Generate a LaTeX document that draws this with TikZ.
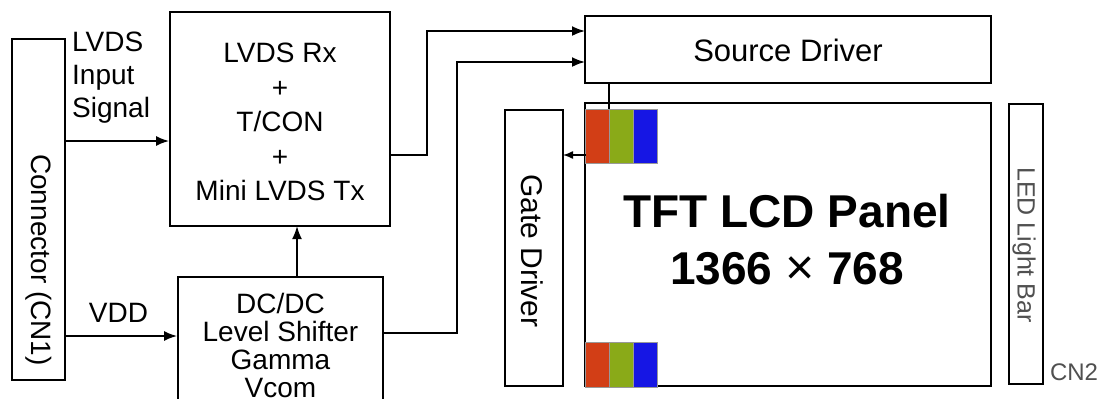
\documentclass[tikz,border=0pt]{standalone}
\usepackage{fontspec}
\setmainfont{Liberation Sans}
\usetikzlibrary{arrows.meta}
\definecolor{pxred}{RGB}{210,62,22}
\definecolor{pxgreen}{RGB}{138,170,24}
\definecolor{pxblue}{RGB}{22,22,228}
\definecolor{greytext}{RGB}{80,80,80}
\begin{document}
\begin{tikzpicture}[x=1pt,y=-1pt,
  box/.style={draw=black, line width=1.8pt, inner sep=0pt, fill=white},
  thinbox/.style={draw=black, line width=1.4pt, inner sep=0pt, fill=white},
  lbl/.style={font=\fontsize{28}{34}\selectfont, inner sep=0pt, align=center},
  wire/.style={line width=1.8pt},
  arr/.style={wire, -{Latex[length=13pt,width=10pt]}},
  smallarr/.style={line width=1.4pt, -{Latex[length=10pt,width=8pt]}},
  cell/.style={draw=black!40, line width=0.6pt, inner sep=0pt, minimum width=24, minimum height=54},
]
\clip (0,0) rectangle (1106,399);
\fill[white] (0,0) rectangle (1106,399);

% Connector CN1
\node[box, minimum width=53, minimum height=341] (cn) at (38.5,209.5) {};
\node[lbl, rotate=-90] (cntext) at (39,260) {Connector (CN1)};

% LVDS Rx block
\node[box, minimum width=220, minimum height=214] (lvds) at (280,119) {};
\node[lbl, font=\fontsize{28}{34.5}\selectfont] (lvdstext) at (280,122) {LVDS Rx\\+\\T/CON\\+\\Mini LVDS Tx};

% DC/DC block (bottom extends past picture)
\node[box, minimum width=205, minimum height=143] (dc) at (280.5,348.5) {};
\node[lbl, font=\fontsize{28}{28}\selectfont] (dctext) at (280.5,345) {DC/DC\\Level Shifter\\Gamma\\Vcom};

% Source driver
\node[box, minimum width=406, minimum height=67] (src) at (788,49.5) {};
\node[lbl, font=\fontsize{31}{34}\selectfont] (srctext) at (788,50) {Source Driver};

% Panel
\node[thinbox, minimum width=406, minimum height=283] (panel) at (788,244.5) {};
\node[lbl, font=\bfseries\fontsize{46}{57}\selectfont] (paneltext) at (787,240) {TFT LCD Panel\\1366 {\mdseries\fontsize{50}{57}\selectfont ×} 768};

% Gate driver
\node[box, minimum width=58, minimum height=276] (gate) at (534,248) {};
\node[lbl, rotate=-90, font=\fontsize{30}{34}\selectfont] (gatetext) at (532,251) {Gate Driver};

% LED light bar
\node[box, minimum width=34, minimum height=280] (led) at (1026,244) {};
\node[lbl, rotate=-90, text=greytext, font=\fontsize{25}{30}\selectfont] (ledtext) at (1024,245) {LED Light Bar};
\node[lbl, text=greytext, font=\fontsize{24}{28}\selectfont] (cn2) at (1074,372) {CN2};

% RGB pixel groups
\node[cell, fill=pxred]   (r1) at (597,136) {};
\node[cell, fill=pxgreen] (g1) at (621,136) {};
\node[cell, fill=pxblue]  (b1) at (645,136) {};
\node[cell, fill=pxred,   minimum height=45] (r2) at (597,364.5) {};
\node[cell, fill=pxgreen, minimum height=45] (g2) at (621,364.5) {};
\node[cell, fill=pxblue,  minimum height=45] (b2) at (645,364.5) {};

% Labels
\node[lbl, align=left, anchor=west, font=\fontsize{28}{33}\selectfont] (lvdsin) at (72,78) {LVDS\\Input\\Signal};
\node[lbl] (vdd) at (118.5,313) {VDD};

% Coordinates
\coordinate (cnA) at (65,141);
\coordinate (cnB) at (65,336);
\coordinate (lvA) at (390,155);
\coordinate (lvB) at (427,155);
\coordinate (lvC) at (427,31);
\coordinate (srcA) at (585,31);
\coordinate (dcA) at (383,333);
\coordinate (dcB) at (457,333);
\coordinate (dcC) at (457,62);
\coordinate (srcB) at (585,62);
\coordinate (upA) at (297,277);
\coordinate (upB) at (297,226);
\coordinate (srcC) at (609,83);
\coordinate (gateA) at (586,155);
\coordinate (gateB) at (563,155);

% Connectors
\draw[arr] (cnA) -- (cnA -| lvds.west);
\draw[arr] (cnB) -- (cnB -| dc.west);
\draw[arr] (upA) -- (upB);
\draw[arr] (lvA) -- (lvB) -- (lvC) -- (srcA);
\draw[arr] (dcA) -- (dcB) -- (dcC) -- (srcB);
\draw[line width=1.4pt] (srcC) -- (srcC |- r1.north);
\draw[smallarr] (gateA) -- (gateB);
\end{tikzpicture}
\end{document}
